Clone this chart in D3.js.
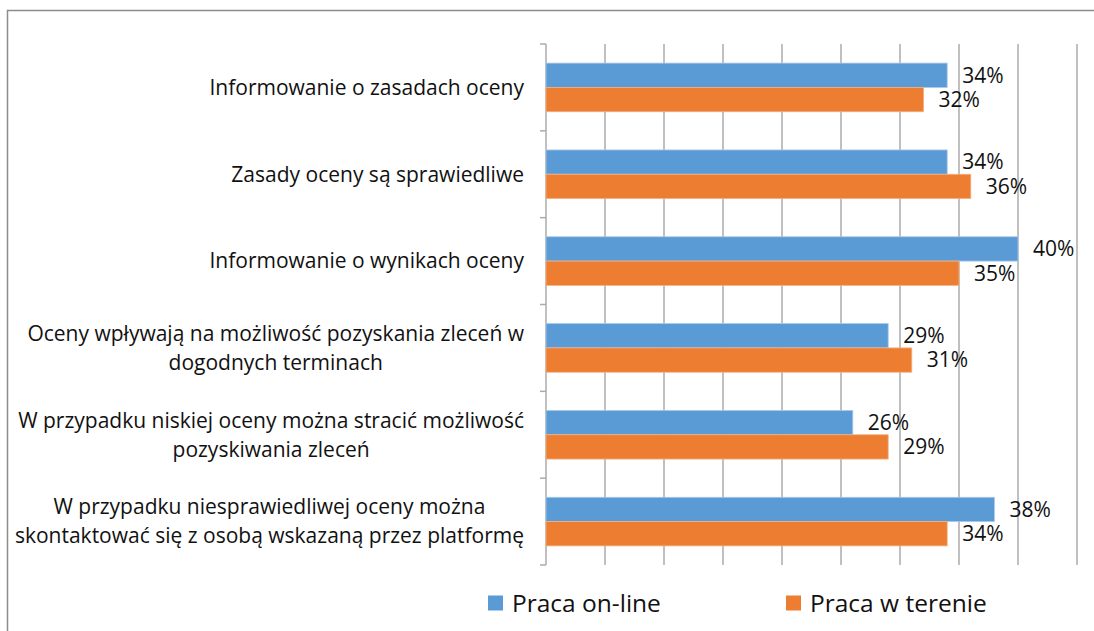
<!DOCTYPE html>
<html>
<head>
<meta charset="utf-8">
<script src="https://cdnjs.cloudflare.com/ajax/libs/d3/7.8.5/d3.min.js"></script>
<style>
  body { margin: 0; background: #fff; }
  svg { display: block; font-family: "Open Sans", "Noto Sans", sans-serif; }
</style>
</head>
<body>
<svg width="1094" height="631"></svg>
<script>
var categories = [
    ["Informowanie o zasadach oceny"],
    ["Zasady oceny są sprawiedliwe"],
    ["Informowanie o wynikach oceny"],
    ["Oceny wpływają na możliwość pozyskania zleceń w", "dogodnych terminach"],
    ["W przypadku niskiej oceny można stracić możliwość", "pozyskiwania zleceń"],
    ["W przypadku niesprawiedliwej oceny można", "skontaktować się z osobą wskazaną przez platformę"]
];
var seriesNames = ["Praca on-line", "Praca w terenie"];
var online = [34, 34, 40, 29, 26, 38];
var field = [32, 36, 35, 31, 29, 34];
var xTicks = [0, 5, 10, 15, 20, 25, 30, 35, 40, 45];
var colors = ["#5b9bd5", "#ed7d31"];

function draw() {
    var svg = d3.select("svg");
    var left = 546, right = 1077, top = 44, bottom = 565;

    // chart frame
    svg.append("rect")
        .attr("x", 7.5).attr("y", 10.5)
        .attr("width", 1200).attr("height", 700)
        .attr("fill", "none")
        .attr("stroke", "#8c8c8c")
        .attr("stroke-width", 1.5);

    var x = d3.scaleLinear().domain([0, 45]).range([left, right]);
    var y = d3.scaleBand().domain(d3.range(categories.length)).range([top, bottom])
        .paddingInner(0.44).paddingOuter(0.22);
    var y1 = d3.scaleBand().domain([0, 1]).range([0, y.bandwidth()]);
    var step = (bottom - top) / categories.length;

    // gridlines
    svg.append("g").selectAll("line")
        .data(xTicks)
        .enter().append("line")
        .attr("x1", function(d) { return x(d); })
        .attr("x2", function(d) { return x(d); })
        .attr("y1", top).attr("y2", bottom)
        .attr("stroke", "#ababab")
        .attr("stroke-width", 1.5);

    // category axis ticks
    svg.append("g").selectAll("line")
        .data(d3.range(categories.length + 1))
        .enter().append("line")
        .attr("x1", left - 6).attr("x2", left)
        .attr("y1", function(d) { return top + d * step; })
        .attr("y2", function(d) { return top + d * step; })
        .attr("stroke", "#ababab")
        .attr("stroke-width", 1.5);

    var rows = categories.map(function(c, i) {
        return { i: i, vals: [online[i], field[i]] };
    });

    var groups = svg.append("g").selectAll("g")
        .data(rows)
        .enter().append("g")
        .attr("transform", function(d) { return "translate(0," + y(d.i) + ")"; });

    groups.selectAll("rect")
        .data(function(d) { return d.vals; })
        .enter().append("rect")
        .attr("x", x(0))
        .attr("y", function(d, j) { return y1(j); })
        .attr("width", function(d) { return x(d) - x(0); })
        .attr("height", y1.bandwidth())
        .attr("fill", function(d, j) { return colors[j]; })
        .attr("stroke", function(d, j) { return j == 0 ? "#a9c9ea" : "#f4b183"; })
        .attr("stroke-width", 0.8);

    groups.selectAll("text")
        .data(function(d) { return d.vals; })
        .enter().append("text")
        .attr("x", function(d) { return x(d) + 15; })
        .attr("y", function(d, j) { return y1(j) + y1.bandwidth() / 2; })
        .attr("dy", "0.35em")
        .attr("font-size", 21)
        .attr("fill", "#111")
        .text(function(d) { return d + "%"; });

    // category labels: block right-aligned, lines centred within block
    var labelRight = 524, lineH = 29;
    categories.forEach(function(lines, i) {
        var g = svg.append("g");
        var texts = lines.map(function(l, k) {
            return g.append("text")
                .attr("font-size", 21)
                .attr("fill", "#111")
                .attr("text-anchor", "middle")
                .attr("dy", "0.35em")
                .attr("y", top + (i + 0.5) * step + (k - (lines.length - 1) / 2) * lineH)
                .text(l);
        });
        var w = d3.max(texts, function(t) { return t.node().getComputedTextLength(); });
        texts.forEach(function(t) { t.attr("x", labelRight - w / 2); });
    });

    // legend
    var legX = [488, 786];
    var leg = svg.append("g").selectAll("g")
        .data(seriesNames)
        .enter().append("g")
        .attr("transform", function(d, i) { return "translate(" + legX[i] + ",603)"; });
    leg.append("rect")
        .attr("x", 0).attr("y", -7.5)
        .attr("width", 15).attr("height", 15)
        .attr("fill", function(d, i) { return colors[i]; });
    leg.append("text")
        .attr("x", 24)
        .attr("dy", "0.35em")
        .attr("font-size", 24.5)
        .attr("fill", "#111")
        .text(function(d) { return d; });
}
draw();
</script>
</body>
</html>
